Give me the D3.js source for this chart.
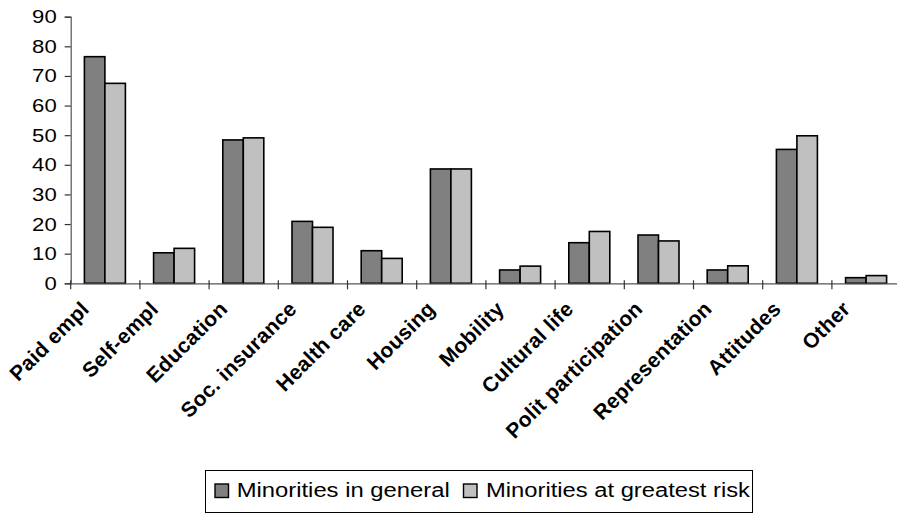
<!DOCTYPE html>
<html>
<head>
<meta charset="utf-8">
<script src="https://cdn.jsdelivr.net/npm/d3@7"></script>
<style>
  body { margin: 0; background: #fff; }
  svg { display: block; font-family: "Liberation Sans", Arial, sans-serif; }
</style>
</head>
<body>
<div id="chart"></div>
<script>
// categories and the two series (percent)
var categories = ["Paid empl", "Self-empl", "Education", "Soc. insurance", "Health care", "Housing",
                  "Mobility", "Cultural life", "Polit participation", "Representation", "Attitudes", "Other"];
var seriesNames = ["Minorities in general", "Minorities at greatest risk"];
var general = [76.5, 10.3, 48.4, 20.9, 11.0, 38.6, 4.5, 13.7, 16.3, 4.5, 45.2, 1.9];
var atRisk  = [67.5, 11.8, 49.1, 18.9, 8.4, 38.6, 5.8, 17.5, 14.3, 5.9, 49.8, 2.6];
var yTicks = [0, 10, 20, 30, 40, 50, 60, 70, 80, 90];
var colors = ["#808080", "#c0c0c0"];

var width = 897, height = 516;
var plotLeft = 70.7, plotTop = 16.7, plotBottom = 283.3;
var bandW = 69.2;

var svg = d3.select("#chart").append("svg")
	.attr("width", width)
	.attr("height", height);

var x = d3.scaleBand()
	.domain(categories)
	.range([plotLeft, plotLeft + bandW * categories.length]);

// position of the two bars inside a category
var x1 = d3.scaleBand()
	.domain([0, 1])
	.range([13.7, 54.7]);

var y = d3.scaleLinear()
	.domain([0, 90])
	.range([plotBottom, plotTop]);

// bars
var groups = svg.selectAll(".cat")
	.data(categories)
	.enter().append("g")
	.attr("class", "cat")
	.attr("transform", function(d) { return "translate(" + x(d) + ",0)"; });

groups.selectAll("rect")
	.data(function(d, i) { return [general[i], atRisk[i]]; })
	.enter().append("rect")
	.attr("x", function(d, j) { return x1(j); })
	.attr("y", function(d) { return y(d); })
	.attr("width", x1.bandwidth())
	.attr("height", function(d) { return plotBottom - y(d); })
	.attr("fill", function(d, j) { return colors[j]; })
	.attr("stroke", "#000")
	.attr("stroke-width", 1.6);

// y axis
var yAxis = svg.append("g")
	.attr("transform", "translate(" + plotLeft + ",0)")
	.call(d3.axisLeft(y).tickValues(yTicks).tickSize(6).tickPadding(8));
yAxis.select(".domain").attr("stroke", "#555").attr("stroke-width", 1.2);
yAxis.selectAll(".tick line").attr("stroke", "#333").attr("stroke-width", 1.2);
yAxis.selectAll(".tick text")
	.attr("fill", "#000")
	.style("font-size", "18.6px")
	.attr("lengthAdjust", "spacingAndGlyphs")
	.attr("textLength", function(d) { return String(d).length * 12.3; });

// x axis
var xAxis = svg.append("g")
	.attr("transform", "translate(0," + plotBottom + ")")
	.call(d3.axisBottom(x).tickSize(0).tickFormat(""));
xAxis.select(".domain").attr("stroke", "#555").attr("stroke-width", 1.2);
xAxis.selectAll(".tick").remove();

// category separators below the axis
svg.selectAll(".sep")
	.data(categories)
	.enter().append("line")
	.attr("class", "sep")
	.attr("x1", function(d) { return x(d); })
	.attr("x2", function(d) { return x(d); })
	.attr("y1", plotBottom - 3)
	.attr("y2", plotBottom + 6)
	.attr("stroke", "#333")
	.attr("stroke-width", 1.2);

// rotated category labels
svg.selectAll(".xlab")
	.data(categories)
	.enter().append("text")
	.attr("class", "xlab")
	.attr("transform", function(d) {
		return "translate(" + (x(d) + x.bandwidth() / 2 - 15) + "," + (plotBottom + 27) + ") rotate(-45)";
	})
	.attr("text-anchor", "end")
	.style("font-size", "21px")
	.style("font-weight", "bold")
	.style("letter-spacing", "0.3px")
	.text(function(d) { return d; });

// legend
var legend = svg.append("g");
legend.append("rect")
	.attr("x", 205.5).attr("y", 470.5)
	.attr("width", 547).attr("height", 42)
	.attr("fill", "#fff").attr("stroke", "#000").attr("stroke-width", 1);

var legX = [215, 463.5];
var legTextX = [236.7, 486];
var legTextW = [213, 264];
var items = legend.selectAll(".leg")
	.data(seriesNames)
	.enter().append("g")
	.attr("class", "leg");
items.append("rect")
	.attr("x", function(d, i) { return legX[i]; })
	.attr("y", 484)
	.attr("width", 13.5).attr("height", 13.5)
	.attr("fill", function(d, i) { return colors[i]; })
	.attr("stroke", "#000").attr("stroke-width", 1.4);
items.append("text")
	.attr("x", function(d, i) { return legTextX[i]; })
	.attr("y", 496.7)
	.style("font-size", "19.5px")
	.attr("lengthAdjust", "spacingAndGlyphs")
	.attr("textLength", function(d, i) { return legTextW[i]; })
	.text(function(d) { return d; });
</script>
</body>
</html>
